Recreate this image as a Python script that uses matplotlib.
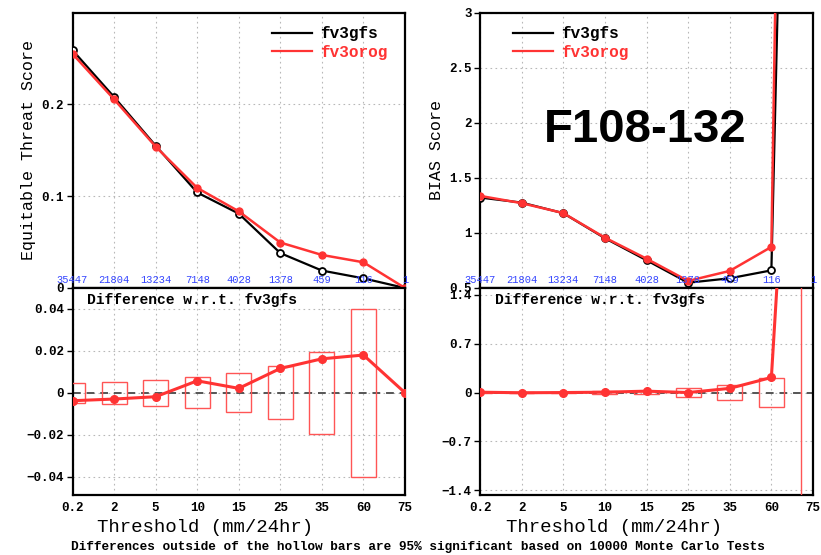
import matplotlib
matplotlib.use("Agg")
import matplotlib.pyplot as plt
from matplotlib.lines import Line2D
from matplotlib.patches import Rectangle
import numpy as np

plt.rcParams['font.family'] = ['Liberation Mono', 'DejaVu Sans']

thresholds = ['0.2', '2', '5', '10', '15', '25', '35', '60', '75']
counts = ['35447', '21804', '13234', '7148', '4028', '1378', '459', '116', '1']

ets_gfs = [0.259, 0.208, 0.155, 0.104, 0.081, 0.038, 0.019, 0.0105, 0.0]
ets_orog = [0.255, 0.2055, 0.154, 0.109, 0.0835, 0.0495, 0.036, 0.028, 0.0]
ets_diff = [-0.0038, -0.003, -0.0019, 0.0057, 0.0021, 0.0116, 0.0162, 0.018, 0.0]
ets_ci = [0.0047, 0.0052, 0.0061, 0.0074, 0.0092, 0.0127, 0.0196, 0.0402, 0.0]

bias_gfs = [1.321, 1.275, 1.179, 0.952, 0.752, 0.548, 0.588, 0.660, 16.5]
bias_orog = [1.336, 1.270, 1.180, 0.957, 0.766, 0.564, 0.655, 0.873, 24.5]
bias_diff = [0.005, -0.003, 0.0, 0.005, 0.02, 0.0, 0.06, 0.216, 10.0]
bias_ci = [0.01, 0.01, 0.01, 0.02, 0.02, 0.06, 0.105, 0.21, 20.0]

BLACK = '#000000'
RED = '#ff3333'
BOXRED = '#ff5555'
BLUE = '#3344ff'
GRID = '#b8b8b8'

W, H = 821, 555
fig = plt.figure(figsize=(W / 100, H / 100), dpi=100)

def fr(x0, y0, x1, y1):
    return [x0 / W, 1 - y1 / H, (x1 - x0) / W, (y1 - y0) / H]

xpos = np.arange(len(thresholds))

def style(ax, ylim, yticks, ylabels, xlabels=False, xlabel_x=0.4):
    ax.set_xlim(0, len(thresholds) - 1)
    ax.set_ylim(*ylim)
    ax.set_xticks(xpos)
    ax.set_yticks(yticks)
    ax.set_yticklabels(ylabels)
    for s in ax.spines.values():
        s.set_linewidth(1.6)
    ax.grid(True, color=GRID, linestyle=(0, (1.5, 3)), linewidth=0.8)
    ax.set_axisbelow(True)
    ax.tick_params(axis='y', direction='out', length=4, width=1, pad=2,
                   labelsize=9)
    if xlabels:
        ax.set_xticklabels(thresholds)
        ax.tick_params(axis='x', direction='out', length=0, pad=5, labelsize=9)
        for lab in ax.get_xticklabels():
            lab.set_fontweight('bold')
        ax.set_xlabel('Threshold (mm/24hr)', fontsize=13.7)
        ax.xaxis.set_label_coords(xlabel_x, -0.115)
    else:
        ax.tick_params(axis='x', length=0, labelbottom=False)
    for lab in ax.get_yticklabels():
        lab.set_fontweight('bold')

def top_panel(ax, gfs, orog, ylim, yticks, ylabels, ylabel, leg_x):
    style(ax, ylim, yticks, ylabels)
    ax.plot(xpos, gfs, color=BLACK, lw=1.6, marker='o', ms=5,
            mfc='white', mec=BLACK, mew=1.3, zorder=3, clip_on=True)
    ax.plot(xpos, orog, color=RED, lw=1.8, marker='o', ms=5,
            mfc=RED, mec=RED, zorder=4, clip_on=True)
    for xi, c in zip(xpos, counts):
        ax.text(xi, 0.012, c, color=BLUE, fontsize=7.5, ha='center',
                va='bottom', transform=ax.get_xaxis_transform(), zorder=5)
    ax.set_ylabel(ylabel, fontsize=12, labelpad=4)
    handles = [Line2D([], [], color=BLACK, lw=1.6),
               Line2D([], [], color=RED, lw=1.6)]
    leg = ax.legend(handles, ['fv3gfs', 'fv3orog'], loc='upper left',
                    bbox_to_anchor=(leg_x, 0.95), frameon=False,
                    prop=dict(family='Liberation Mono', weight='bold', size=11.5),
                    handlelength=2.5, handletextpad=0.5, labelspacing=0.22,
                    borderpad=0, borderaxespad=0)
    leg.get_texts()[1].set_color(RED)

def bottom_panel(ax, diff, ci, ylim, yticks, ylabels, xlabel_x):
    style(ax, ylim, yticks, ylabels, xlabels=True, xlabel_x=xlabel_x)
    ax.axhline(0, color='#555555', lw=1.4, ls=(0, (4, 3)), zorder=2)
    for xi, c in zip(xpos, ci):
        if c > 0:
            ax.add_patch(Rectangle((xi - 0.3, -c), 0.6, 2 * c, fill=False,
                                   edgecolor=BOXRED, lw=1.0, zorder=3))
    ax.plot(xpos, diff, color=RED, lw=2.2, marker='o', ms=5.5,
            mfc=RED, mec=RED, zorder=4)
    ax.text(0.045, 0.975, 'Difference w.r.t. fv3gfs', transform=ax.transAxes,
            fontsize=10.5, fontweight='bold', ha='left', va='top')

# Left column
ax1 = fig.add_axes(fr(72.5, 12.5, 405, 288))
top_panel(ax1, ets_gfs, ets_orog, (0, 0.3), [0, 0.1, 0.2],
          ['0', '0.1', '0.2'], 'Equitable Threat Score', 0.6)
ax2 = fig.add_axes(fr(72.5, 288, 405, 495))
bottom_panel(ax2, ets_diff, ets_ci, (-0.0488, 0.05),
             [-0.04, -0.02, 0, 0.02, 0.04],
             ['\u22120.04', '\u22120.02', '0', '0.02', '0.04'], 0.398)

# Right column
ax3 = fig.add_axes(fr(480, 12.5, 813, 288))
top_panel(ax3, bias_gfs, bias_orog, (0.5, 3), [0.5, 1, 1.5, 2, 2.5, 3],
          ['0.5', '1', '1.5', '2', '2.5', '3'], 'BIAS Score', 0.1)
ax3.text(0.495, 0.573, 'F108-132', transform=ax3.transAxes,
         family='Liberation Sans', fontweight='bold', fontsize=34,
         ha='center', va='center')
ax4 = fig.add_axes(fr(480, 288, 813, 495))
bottom_panel(ax4, bias_diff, bias_ci, (-1.47, 1.5),
             [-1.4, -0.7, 0, 0.7, 1.4],
             ['\u22121.4', '\u22120.7', '0', '0.7', '1.4'], 0.402)

fig.text(417.5 / W, 1 - 547 / H,
         'Differences outside of the hollow bars are 95% significant based on 10000 Monte Carlo Tests',
         ha='center', va='center', fontsize=9.2, fontweight='bold')

fig.savefig('out.png', dpi=100)
